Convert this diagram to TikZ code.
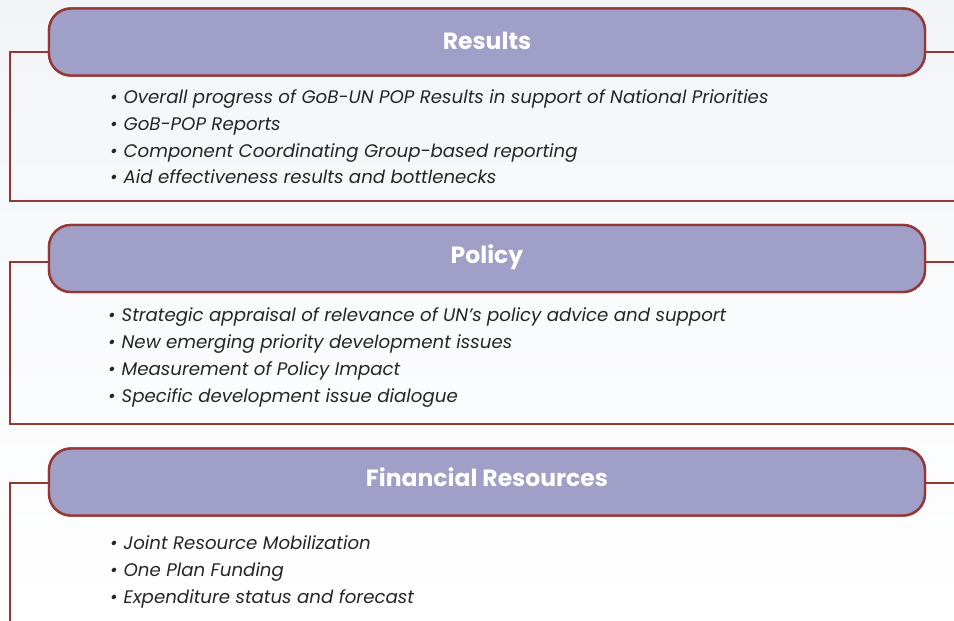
\documentclass[tikz,border=0pt]{standalone}
\usepackage{fontspec}
\setmainfont{Poppins}
\definecolor{hdrfill}{HTML}{A09FC7}
\definecolor{frame}{HTML}{953735}
\definecolor{bgtop}{HTML}{F2F4F8}
\definecolor{txt}{HTML}{262626}
\tikzset{
  hdr/.style={draw=frame, line width=2.4pt, fill=hdrfill, rounded corners=22pt,
    minimum width=876pt, minimum height=67pt, inner sep=0pt},
  ttl/.style={anchor=base, inner sep=0pt, text=white,
    font=\fontsize{23.5}{27}\selectfont\bfseries},
  framel/.style={draw=frame, line width=2pt},
  item/.style={anchor=mid west, inner sep=0pt, text=txt,
    font=\fontsize{18.2}{22}\selectfont\itshape}
}
\begin{document}
\begin{tikzpicture}[x=1pt,y=-1pt]
\useasboundingbox (0,0) rectangle (954,621);
\shade[top color=bgtop, bottom color=white, middle color=white!60!bgtop] (0,0) rectangle (954,621);
% Section 1
\node[hdr] (h1) at (487,42) {};
\coordinate (f1bl) at (10,201);
\coordinate (f1br) at (956,201);
\draw[framel] ([yshift=-10pt]h1.west) -| (f1bl) -- (f1br);
\draw[framel] ([yshift=-10pt]h1.east) -- ++(40,0);
\node[hdr] at (h1) {};
\node[ttl] (t1) at (487,49) {Results};
\node[item] (r1) at (110,101) {•\hspace{6pt}Overall progress of GoB-UN POP Results in support of National Priorities};
\node[item] (r2) at (110,128) {•\hspace{6pt}GoB-POP Reports};
\node[item] (r3) at (110,155) {•\hspace{6pt}Component Coordinating Group-based reporting};
\node[item] (r4) at (110,181) {•\hspace{6pt}Aid effectiveness results and bottlenecks};
% Section 2
\node[hdr] (h2) at (487,258.5) {};
\coordinate (f2bl) at (10,424);
\coordinate (f2br) at (956,424);
\draw[framel] ([yshift=-3pt]h2.west) -| (f2bl) -- (f2br);
\draw[framel] ([yshift=-3pt]h2.east) -- ++(40,0);
\node[hdr] at (h2) {};
\node[ttl] (t2) at (487,263) {Policy};
\node[item] (p1) at (108,319) {•\hspace{6pt}Strategic appraisal of relevance of UN’s policy advice and support};
\node[item] (p2) at (108,346) {•\hspace{6pt}New emerging priority development issues};
\node[item] (p3) at (108,373) {•\hspace{6pt}Measurement of Policy Impact};
\node[item] (p4) at (108,400) {•\hspace{6pt}Specific development issue dialogue};
% Section 3
\node[hdr] (h3) at (487,482) {};
\coordinate (f3bl) at (10,630);
\draw[framel] ([yshift=-1pt]h3.west) -| (f3bl);
\draw[framel] ([yshift=-1pt]h3.east) -- ++(40,0);
\node[hdr] at (h3) {};
\node[ttl] (t3) at (487,486) {Financial Resources};
\node[item] (m1) at (110,547) {•\hspace{6pt}Joint Resource Mobilization};
\node[item] (m2) at (110,574) {•\hspace{6pt}One Plan Funding};
\node[item] (m3) at (110,601) {•\hspace{6pt}Expenditure status and forecast};
\end{tikzpicture}
\end{document}
